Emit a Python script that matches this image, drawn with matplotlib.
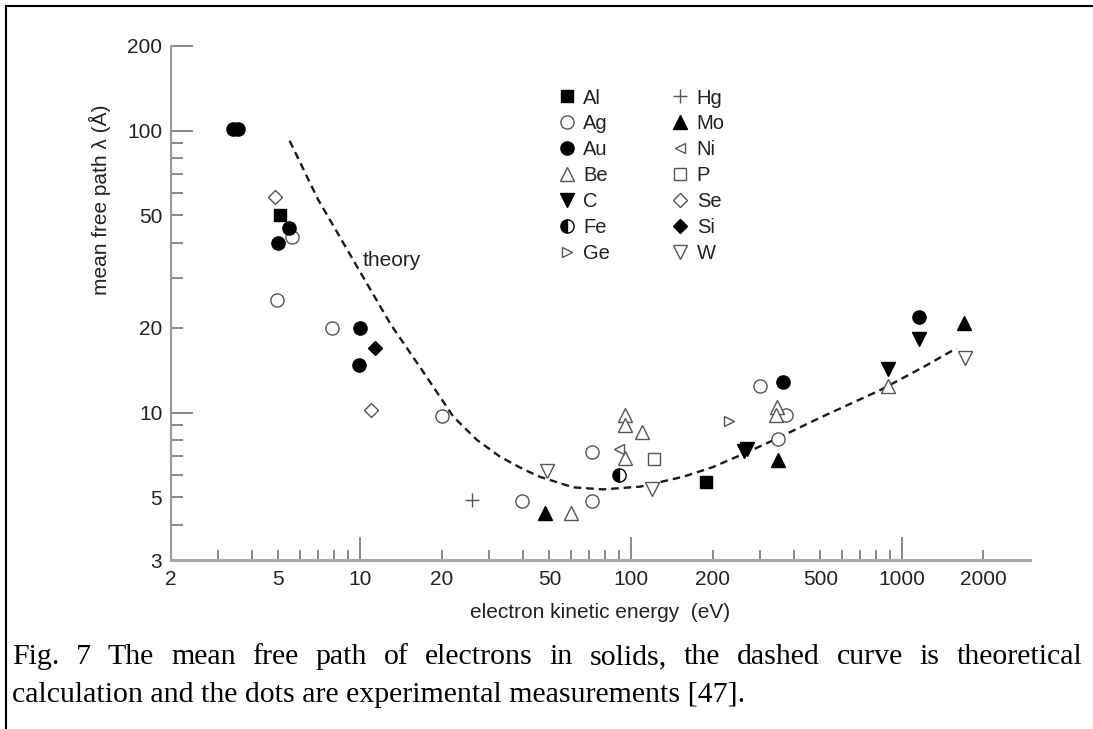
import matplotlib
matplotlib.use('Agg')
import matplotlib.pyplot as plt
from matplotlib.ticker import FixedLocator, FixedFormatter, NullFormatter
from matplotlib.lines import Line2D

# ---------------- data ----------------
THEORY_E = [5.5, 7.0, 9.45, 13.0, 17.6, 22.1, 27.0, 32.9, 40.0, 46.1, 61.2, 79.0,
            108, 156, 200, 266, 326, 500, 830, 1200, 1590]
THEORY_L = [92, 57, 34.7, 20.5, 13.4, 9.67, 8.0, 6.97, 6.3, 5.92, 5.43, 5.34,
            5.46, 5.92, 6.4, 7.2, 7.88, 9.6, 12.0, 14.5, 16.9]

AL_E = [5.05, 190];                  AL_L = [50, 5.65]
AG_E = [4.95, 5.6, 7.9, 20, 39.5, 72, 72, 300, 373, 350]
AG_L = [25, 42, 20, 9.7, 4.85, 4.85, 7.25, 12.4, 9.8, 8.05]
AU_E = [3.4, 3.55, 5.45, 5.0, 10, 9.9, 365, 1160]
AU_L = [101, 101, 45, 40, 20, 14.8, 12.8, 21.8]
BE_E = [60, 95, 95, 95, 110, 345, 343, 890]
BE_L = [4.4, 6.9, 9.8, 9.0, 8.5, 10.5, 9.8, 12.4]
C_E = [262, 268, 890, 1160];          C_L = [7.3, 7.4, 14.3, 18.2]
FE_E = [90];                          FE_L = [6.0]
GE_E = [230];                         GE_L = [9.3]
HG_E = [26];                          HG_L = [4.9]
MO_E = [48, 350, 1700];               MO_L = [4.4, 6.8, 20.8]
NI_E = [90];                          NI_L = [7.4]
P_E = [122];                          P_L = [6.85]
SE_E = [4.85, 11];                    SE_L = [58, 10.2]
SI_E = [11.4];                        SI_L = [17]
W_E = [49, 120, 1710];                W_L = [6.2, 5.35, 15.6]

ELEMENTS = ['Al', 'Ag', 'Au', 'Be', 'C', 'Fe', 'Ge',
            'Hg', 'Mo', 'Ni', 'P', 'Se', 'Si', 'W']

XTICKS = [2, 5, 10, 20, 50, 100, 200, 500, 1000, 2000]
XTICK_LABELS = ['2', '5', '10', '20', '50', '100', '200', '500', '1000', '2000']
XMINOR = [3, 4, 6, 7, 8, 9, 30, 40, 60, 70, 80, 90, 300, 400, 600, 700, 800, 900]
YTICKS = [3, 5, 10, 20, 50, 100, 200]
YTICK_LABELS = ['3', '5', '10', '20', '50', '100', '200']
YMINOR = [4, 6, 7, 8, 9, 30, 40, 60, 70, 80, 90]

CAPTION_LINE1 = ("Fig. 7 The mean free path of electrons in solids, the dashed curve "
                 "is theoretical")
CAPTION_LINE2 = "calculation and the dots are experimental measurements [47]."

# ---------------- figure ----------------
plt.rcParams['font.family'] = ['Liberation Sans', 'DejaVu Sans']
W, H = 1093, 729
fig = plt.figure(figsize=(W / 100, H / 100), dpi=100)
ax = fig.add_axes([170.6 / W, 1 - 560 / H, (1030 - 170.6) / W, (560 - 45.7) / H])
ax.set_xscale('log')
ax.set_yscale('log')
ax.set_xlim(2, 2970)
ax.set_ylim(3, 200)

ax.plot(THEORY_E, THEORY_L, color='#1a1a1a', lw=1.7, ls=(0, (3.2, 2.1)), zorder=2)
ax.text(10.2, 34.7, 'theory', fontsize=15, color='#222', va='center', ha='left')

OPEN = '#555555'
series = {
    'Al': (AL_E, AL_L, dict(marker='s', ms=8, mfc='black', mec='black', mew=1)),
    'Ag': (AG_E, AG_L, dict(marker='o', ms=9.5, mfc='white', mec=OPEN, mew=1.0)),
    'Au': (AU_E, AU_L, dict(marker='o', ms=9.5, mfc='black', mec='black', mew=1)),
    'Be': (BE_E, BE_L, dict(marker='^', ms=9.5, mfc='white', mec=OPEN, mew=1.0)),
    'C': (C_E, C_L, dict(marker='v', ms=9.5, mfc='black', mec='black', mew=1)),
    'Fe': (FE_E, FE_L, dict(marker='o', ms=9.5, fillstyle='left', mfc='black',
                            mfcalt='white', mec='black', mew=1)),
    'Ge': (GE_E, GE_L, dict(marker='>', ms=7, mfc='white', mec=OPEN, mew=1.0)),
    'Hg': (HG_E, HG_L, dict(marker='+', ms=10, mec=OPEN, mew=1.0)),
    'Mo': (MO_E, MO_L, dict(marker='^', ms=9.5, mfc='black', mec='black', mew=1)),
    'Ni': (NI_E, NI_L, dict(marker='<', ms=7, mfc='white', mec=OPEN, mew=1.0)),
    'P': (P_E, P_L, dict(marker='s', ms=8, mfc='white', mec=OPEN, mew=1.0)),
    'Se': (SE_E, SE_L, dict(marker='D', ms=7, mfc='white', mec=OPEN, mew=1.0)),
    'Si': (SI_E, SI_L, dict(marker='D', ms=7.5, mfc='black', mec='black', mew=1)),
    'W': (W_E, W_L, dict(marker='v', ms=9.5, mfc='white', mec=OPEN, mew=1.0)),
}
handles = []
for name in ELEMENTS:
    xs, ys, st = series[name]
    h, = ax.plot(xs, ys, ls='none', label=name, zorder=3, **st)
    handles.append(h)

ax.legend(handles=handles, ncol=2, loc='upper left',
          bbox_to_anchor=(558.7 / W, 1 - 88.5 / H), bbox_transform=fig.transFigure,
          frameon=False, fontsize=14.5, handlelength=0.8, handletextpad=0.41,
          columnspacing=3.1, labelspacing=0.34, borderpad=0, borderaxespad=0,
          numpoints=1, labelcolor='#222')

# axes styling
for s in ('top', 'right'):
    ax.spines[s].set_visible(False)
ax.spines['left'].set_color('#999999')
ax.spines['left'].set_linewidth(1.5)
ax.spines['bottom'].set_color('#aaaaaa')
ax.spines['bottom'].set_linewidth(2.2)

ax.xaxis.set_major_locator(FixedLocator(XTICKS))
ax.xaxis.set_major_formatter(FixedFormatter(XTICK_LABELS))
ax.xaxis.set_minor_locator(FixedLocator(XMINOR))
ax.xaxis.set_minor_formatter(NullFormatter())
ax.yaxis.set_major_locator(FixedLocator(YTICKS))
ax.yaxis.set_major_formatter(FixedFormatter(YTICK_LABELS))
ax.yaxis.set_minor_locator(FixedLocator(YMINOR))
ax.yaxis.set_minor_formatter(NullFormatter())

ax.tick_params(axis='both', which='both', direction='in', color='#777777', width=1.2,
               labelsize=15, labelcolor='#222', top=False, right=False)
ax.tick_params(axis='x', which='major', length=7.5, pad=7)
ax.tick_params(axis='x', which='minor', length=7.5)
ax.tick_params(axis='y', which='major', length=8.5, pad=6)
ax.tick_params(axis='y', which='minor', length=8.5)

for t, v in zip(ax.xaxis.get_major_ticks(), XTICKS):
    if v in (10, 100, 1000):
        t.tick1line.set_markersize(16.5)
for t, v in zip(ax.yaxis.get_major_ticks(), YTICKS):
    if v in (10, 100, 200):
        t.tick1line.set_markersize(15.5)

ax.set_xlabel('electron kinetic energy  (eV)', fontsize=15, color='#222')
ax.xaxis.label.set_va('center')
ax.xaxis.set_label_coords(0.5, (560 - 612) / 514.3)
ax.set_ylabel('mean free path λ (Å)', fontsize=15, color='#222')
ax.yaxis.label.set_va('center')
ax.yaxis.set_label_coords((100 - 170.6) / 859.4, (560 - 200) / 514.3)

# page frame
fig.add_artist(Line2D([5.5 / W, 5.5 / W], [0, 1 - 5.5 / H], transform=fig.transFigure,
                      color='black', lw=1.5))
fig.add_artist(Line2D([5.5 / W, 1], [1 - 5.5 / H, 1 - 5.5 / H], transform=fig.transFigure,
                      color='black', lw=1.5))

# caption (first line justified)
cap_font = dict(family=['Liberation Serif', 'DejaVu Serif'], fontsize=21.5, color='black')
renderer = fig.canvas.get_renderer()
words = CAPTION_LINE1.split()
x_left, x_right = 12, 1082
y1 = 1 - 664 / H
texts = [fig.text(0, y1, w, va='baseline', ha='left', **cap_font) for w in words]
widths = [t.get_window_extent(renderer).width for t in texts]
gap = (x_right - x_left - sum(widths)) / (len(words) - 1)
x = x_left
for t, w in zip(texts, widths):
    t.set_x(x / W)
    x += w + gap
fig.text(x_left / W, 1 - 702 / H, CAPTION_LINE2, va='baseline', ha='left', **cap_font)

fig.savefig('out.png', dpi=100)
